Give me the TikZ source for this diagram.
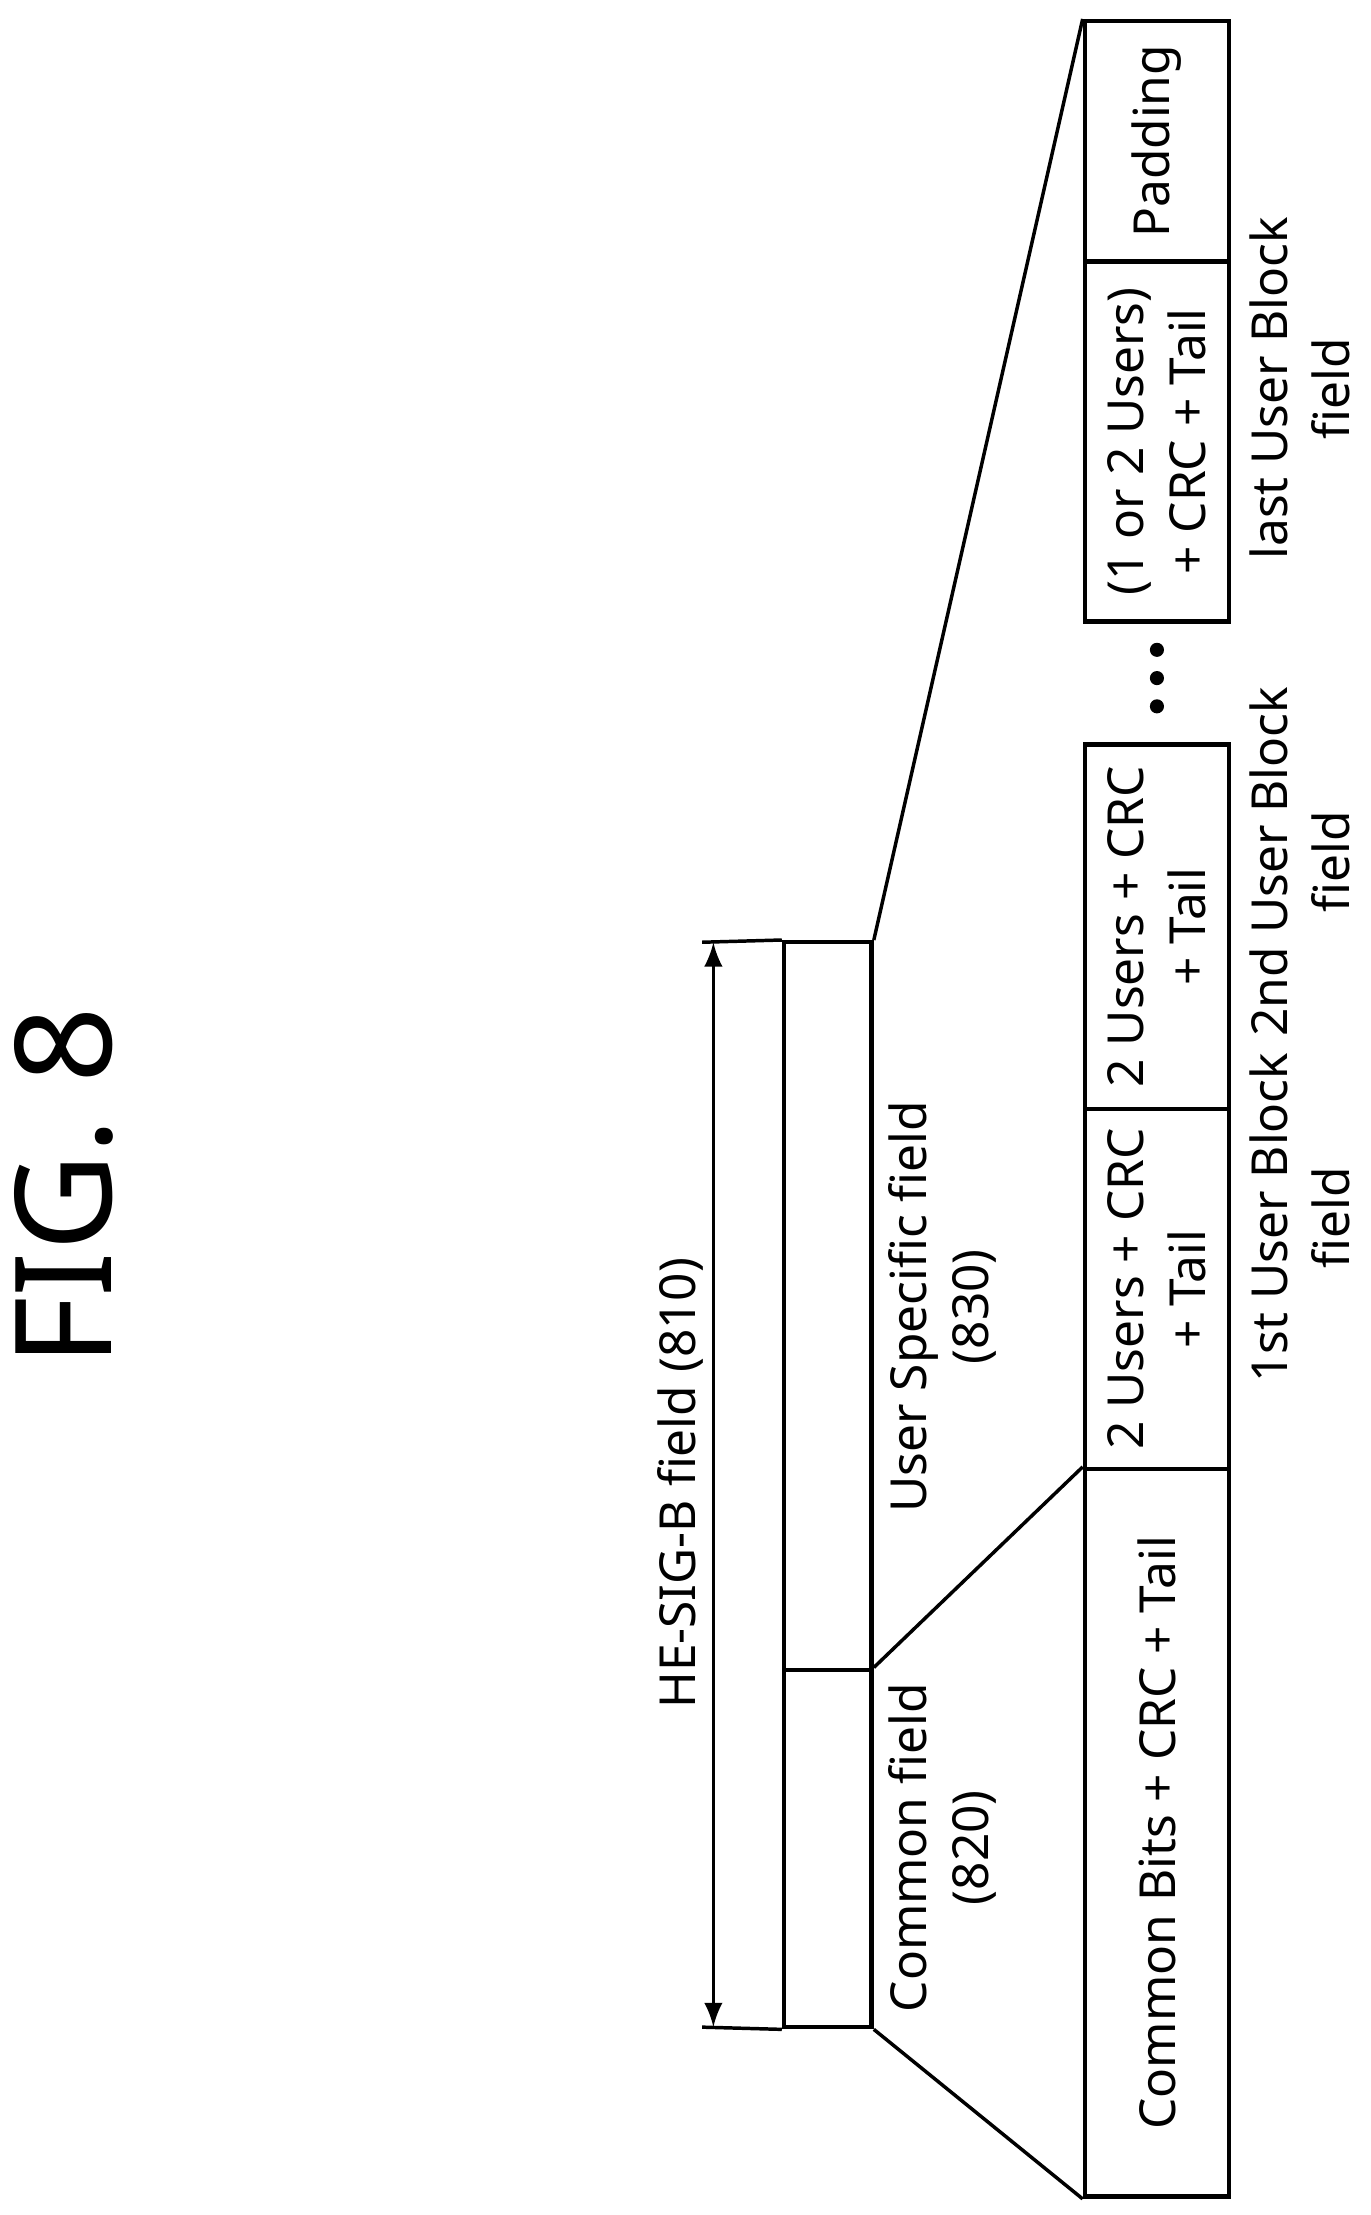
\documentclass[tikz,border=0pt]{standalone}
\usepackage{fontspec}
\setmainfont{Noto Sans}
\usetikzlibrary{positioning}
\begin{document}
\begin{tikzpicture}[x=0.1mm,y=-0.1mm,
    fieldbox/.style={draw, line width=0.9pt, inner sep=0pt},
    lbl/.style={rotate=90, align=center, font=\fontsize{10}{12.5}\selectfont},
    dot/.style={circle, fill=black, inner sep=0pt, minimum size=1mm}
    ]
    \useasboundingbox (0,0) rectangle (970,1568);
    \node[rotate=90, font=\fontsize{27}{30}\selectfont] (title) at (45,840) {FIG. 8};
    % upper field
    \node[fieldbox, minimum width=6.2mm, minimum height=25.3mm] (common) at (586,1308.5) {};
    \node[fieldbox, minimum width=6.2mm, minimum height=51.5mm] (user) at (586,924.5) {};
    \node[lbl] (commonlbl) at (667,1308) {Common field\\(820)};
    \node[lbl] (userlbl) at (667,925) {User Specific field\\(830)};
    % dimension
    \coordinate (d1) at (505,667);
    \coordinate (d2) at (505,1435);
    \draw[line width=0.7pt] (497,667) -- (user.north west);
    \draw[line width=0.7pt] (497,1435) -- (common.south west);
    \draw[line width=0.7pt, <->, >=latex] (d1) -- (d2);
    \node[lbl] (sigb) at (482,1050) {HE-SIG-B field (810)};
    % lower fields
    \node[fieldbox, minimum width=10.2mm, minimum height=51.5mm] (cbits) at (819,1297.5) {};
    \node[fieldbox, minimum width=10.2mm, minimum height=25.5mm] (ub1) at (819,912.5) {};
    \node[fieldbox, minimum width=10.2mm, minimum height=25.8mm] (ub2) at (819,656) {};
    \node[fieldbox, minimum width=10.2mm, minimum height=25.5mm] (ublast) at (819,312.5) {};
    \node[fieldbox, minimum width=10.2mm, minimum height=17mm] (pad) at (819,100) {};
    \node[lbl] at (cbits.center) {Common Bits + CRC + Tail};
    \node[lbl] at (ub1.center) {2 Users + CRC\\+ Tail};
    \node[lbl] at (ub2.center) {2 Users + CRC\\+ Tail};
    \node[lbl] at (ublast.center) {(1 or 2 Users)\\+ CRC + Tail};
    \node[lbl] at (pad.center) {Padding};
    \node[lbl] (ub1lbl) at (920,862) {1st User Block\\field};
    \node[lbl] (ub2lbl) at (920,610) {2nd User Block\\field};
    \node[lbl] (ublastlbl) at (920,275) {last User Block\\field};
    \foreach \y in {460,480,500} \node[dot] at (819,\y) {};
    % expansion lines
    \draw[line width=0.7pt] (common.south east) -- (cbits.south west);
    \draw[line width=0.7pt] (common.north east) -- (cbits.north west);
    \draw[line width=0.7pt] (user.north east) -- (pad.north west);
\end{tikzpicture}
\end{document}
